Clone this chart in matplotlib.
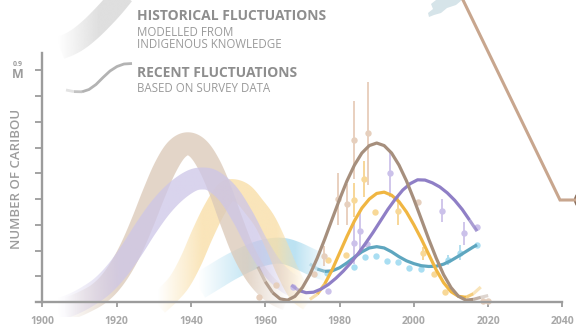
import numpy as np
import matplotlib

matplotlib.use("Agg")
import matplotlib.pyplot as plt
from matplotlib.collections import LineCollection
from matplotlib.colors import to_rgb
from matplotlib.patches import Circle, Polygon

plt.rcParams["font.family"] = ["Open Sans", "DejaVu Sans"]

# Historical fluctuations modelled from Indigenous knowledge (million caribou)
hist_brown_years = [1906, 1909, 1912, 1915, 1918, 1921, 1924, 1927, 1930, 1933, 1936, 1939,
                    1942, 1945, 1948, 1951, 1954, 1957, 1960, 1963, 1966]
hist_brown_vals = [-0.03, -0.015, 0.005, 0.03, 0.07, 0.13, 0.21, 0.31, 0.42, 0.52, 0.59, 0.615,
                   0.595, 0.53, 0.43, 0.31, 0.20, 0.12, 0.065, 0.03, 0.01]
hist_purple_years = [1904, 1908, 1912, 1916, 1920, 1924, 1928, 1932, 1936, 1940, 1943, 1946,
                     1950, 1954, 1958, 1962, 1966, 1969]
hist_purple_vals = [-0.03, -0.01, 0.02, 0.06, 0.12, 0.20, 0.29, 0.37, 0.43, 0.47, 0.48, 0.47,
                    0.42, 0.33, 0.22, 0.13, 0.075, 0.055]
hist_yellow_years = [1931, 1934, 1937, 1940, 1943, 1946, 1949, 1951, 1954, 1957, 1960, 1963,
                     1966, 1969, 1972]
hist_yellow_vals = [-0.01, 0.03, 0.08, 0.16, 0.26, 0.35, 0.42, 0.435, 0.42, 0.37, 0.31, 0.22,
                    0.12, 0.04, 0.005]
hist_blue_years = [1942, 1946, 1950, 1954, 1958, 1962, 1965, 1968, 1971, 1974, 1977]
hist_blue_vals = [0.06, 0.095, 0.13, 0.16, 0.185, 0.198, 0.198, 0.185, 0.165, 0.145, 0.13]

# Recent fluctuations based on survey data (fitted curves)
rec_brown_years = list(range(1958, 2021, 2))
rec_brown_vals = [0.137, 0.079, 0.036, 0.012, 0.007, 0.022, 0.056, 0.106, 0.171, 0.244, 0.322,
                  0.399, 0.471, 0.532, 0.579, 0.608, 0.618, 0.608, 0.579, 0.532, 0.471, 0.399,
                  0.322, 0.244, 0.171, 0.106, 0.056, 0.022, 0.007, 0.010, 0.018, 0.025]
rec_yellow_years = list(range(1972, 2019, 2))
rec_yellow_vals = [0.01, 0.03, 0.07, 0.125, 0.19, 0.255, 0.315, 0.365, 0.40, 0.422, 0.427, 0.415,
                   0.39, 0.35, 0.30, 0.245, 0.185, 0.125, 0.075, 0.04, 0.022, 0.018, 0.032, 0.058]
rec_purple_years = list(range(1967, 2018, 2))
rec_purple_vals = [0.066, 0.045, 0.036, 0.038, 0.05, 0.068, 0.092, 0.12, 0.152, 0.188, 0.228,
                   0.27, 0.315, 0.36, 0.40, 0.435, 0.46, 0.475, 0.474, 0.463, 0.447, 0.424,
                   0.395, 0.36, 0.318, 0.275]
rec_blue_years = list(range(1972, 2017, 2)) + [2017]
rec_blue_vals = [0.148, 0.128, 0.119, 0.121, 0.133, 0.152, 0.174, 0.195, 0.21, 0.215, 0.21,
                 0.195, 0.176, 0.16, 0.149, 0.141, 0.138, 0.139, 0.147, 0.161, 0.178, 0.196,
                 0.214, 0.222]

# Survey estimates with error ranges
brown_pt_years = [1958.2, 1962.9, 1973.0, 1975.8, 1979.7, 1981.9, 1983.9, 1987.7, 2001.2, 2018.5, 2020.0]
brown_pt_vals = [0.018, 0.065, 0.109, 0.179, 0.40, 0.38, 0.63, 0.656, 0.39, 0.005, 0.003]
brown_pt_err = [0, 0, 0, 0.04, 0.10, 0.08, 0.15, 0.20, 0, 0, 0]
yellow_pt_years = [1977.0, 1981.7, 1983.9, 1986.6, 1989.5, 1995.8, 2002.5, 2005.5, 2008.4]
yellow_pt_vals = [0.163, 0.183, 0.397, 0.479, 0.35, 0.354, 0.19, 0.11, 0.04]
yellow_pt_err = [0, 0, 0.065, 0.07, 0, 0.055, 0.025, 0, 0]
purple_pt_years = [1967.5, 1977.0, 1983.9, 1985.5, 1987.5, 1993.7, 2007.5, 2013.6, 2016.9]
purple_pt_vals = [0.06, 0.044, 0.228, 0.274, 0.226, 0.50, 0.354, 0.267, 0.293]
purple_pt_err = [0, 0, 0.08, 0.08, 0, 0.09, 0.045, 0.045, 0]
blue_pt_years = [1976.7, 1983.9, 1986.8, 1989.7, 1992.7, 1995.8, 1998.8, 2001.8, 2009.3, 2012.4, 2016.9]
blue_pt_vals = [0.112, 0.137, 0.176, 0.18, 0.16, 0.154, 0.131, 0.128, 0.163, 0.192, 0.222]
blue_pt_err = [0, 0, 0, 0, 0, 0, 0, 0, 0.02, 0.03, 0]

x_ticks = [1900, 1920, 1940, 1960, 1980, 2000, 2020, 2040]
y_ticks = [0.1, 0.2, 0.3, 0.4, 0.5, 0.6, 0.7, 0.8, 0.9]

GREY = "#9c9c9c"
W, H = 576, 332


def fade_alpha(x, fade_in, fade_out, low=0.0):
    return np.interp(x, [fade_in[0], fade_in[1], fade_out[0], fade_out[1]], [low, 1, 1, low])


def catmull_rom(pts, n=16):
    # smooth rendering path through the given points (display space)
    out = []
    last = len(pts) - 1
    for i in range(last):
        p0, p1 = pts[max(i - 1, 0)], pts[i]
        p2, p3 = pts[i + 1], pts[min(i + 2, last)]
        t = np.linspace(0, 1, n, endpoint=False)[:, None]
        out.append(0.5 * (2 * p1 + (p2 - p0) * t + (2 * p0 - 5 * p1 + 4 * p2 - p3) * t ** 2
                          + (3 * p1 - p0 - 3 * p2 + p3) * t ** 3))
    out.append(pts[-1:])
    return np.vstack(out)


def draw_band(ax, xs, ys, color, width_px, fade_in, fade_out, alpha_max, zorder):
    """Thick translucent stroke with a gradient fade, via a clipped gradient image."""
    pts = ax.transData.transform(np.column_stack([xs, ys]).astype(float))
    pts = catmull_rom(pts)
    d = np.gradient(pts, axis=0)
    d /= np.linalg.norm(d, axis=1)[:, None]
    nrm = np.column_stack([-d[:, 1], d[:, 0]])
    outline = np.vstack([pts + nrm * width_px / 2, (pts - nrm * width_px / 2)[::-1]])
    outline = ax.transData.inverted().transform(outline)
    clip = Polygon(outline, closed=True, transform=ax.transData, facecolor="none", edgecolor="none")
    x0, x1 = ax.get_xlim()
    y0, y1 = ax.get_ylim()
    gx = np.linspace(min(x0, x1), max(x0, x1), 600)
    rgba = np.zeros((1, gx.size, 4))
    rgba[..., :3] = to_rgb(color)
    rgba[..., 3] = fade_alpha(gx, fade_in, fade_out) * alpha_max
    im = ax.imshow(rgba, extent=(gx[0], gx[-1], y0, y1), aspect="auto",
                   interpolation="bilinear", zorder=zorder)
    im.set_clip_path(clip)


def draw_line(ax, xs, ys, color, lw, fade_in, fade_out, zorder):
    xs = np.asarray(xs, float)
    ys = np.asarray(ys, float)
    mid = (xs[:-1] + xs[1:]) / 2
    a = fade_alpha(mid, fade_in, fade_out, low=0.05)
    full = a >= 0.999
    segs = np.stack([np.column_stack([xs[:-1], ys[:-1]]), np.column_stack([xs[1:], ys[1:]])], axis=1)
    rgb = to_rgb(color)
    lc = LineCollection(segs[~full], colors=[(*rgb, v) for v in a[~full]], linewidths=lw,
                        capstyle="butt", zorder=zorder)
    ax.add_collection(lc)
    idx = np.where(full)[0]
    if idx.size:
        ax.plot(xs[idx[0]:idx[-1] + 2], ys[idx[0]:idx[-1] + 2], color=color, lw=lw,
                solid_capstyle="butt", zorder=zorder)


fig = plt.figure(figsize=(W / 100, H / 100), dpi=100)

# overlay in pixel coordinates for legend glyphs and decorations
ov = fig.add_axes([0, 0, 1, 1])
ov.set_xlim(0, W)
ov.set_ylim(H, 0)
ov.set_autoscale_on(False)
ov.axis("off")

ax = fig.add_axes([36 / W, 1 - 317.4 / H, (562.5 - 36) / W, (317.4 - 53) / H])
ax.patch.set_alpha(0)
ax.set_xlim(1898.3, 2040)
ax.set_ylim(-0.06, 0.968)
ax.set_autoscale_on(False)

# historical bands
draw_band(ax, hist_blue_years, hist_blue_vals, "#a6d9ee", 26, (1942, 1957), (1968, 1977), 0.75, 1)
draw_band(ax, hist_yellow_years, hist_yellow_vals, "#f9dea6", 22, (1931, 1943), (1963, 1972), 0.78, 2)
draw_band(ax, hist_brown_years, hist_brown_vals, "#dccab9", 23, (1906, 1920), (1955, 1966), 0.78, 3)
draw_band(ax, hist_purple_years, hist_purple_vals, "#cdc6e8", 22, (1904, 1921), (1958, 1969), 0.75, 4)

# survey points with error bars
for yrs, vals, err, pc, ec in [
    (blue_pt_years, blue_pt_vals, blue_pt_err, "#a9def2", "#9fd4ea"),
    (yellow_pt_years, yellow_pt_vals, yellow_pt_err, "#f8d897", "#f5cb7c"),
    (purple_pt_years, purple_pt_vals, purple_pt_err, "#cbc1ea", "#c3b7e6"),
    (brown_pt_years, brown_pt_vals, brown_pt_err, "#e6cfbd", "#e3c4ad"),
]:
    ax.errorbar(yrs, vals, yerr=err, fmt="none", ecolor=ec, elinewidth=1.1, capsize=0, zorder=5)
    ax.plot(yrs, vals, "o", ms=4.6, color=pc, mec="none", zorder=6)

# recent fitted curves
draw_line(ax, rec_blue_years, rec_blue_vals, "#5ea6bf", 2.3, (1972, 1976), (2030, 2031), 7)
draw_line(ax, rec_yellow_years, rec_yellow_vals, "#f0b642", 2.3, (1971, 1976), (2013, 2019), 8)
draw_line(ax, rec_purple_years, rec_purple_vals, "#8f7fc6", 2.3, (1966, 1970), (2015, 2019), 9)
draw_line(ax, rec_brown_years, rec_brown_vals, "#a68f7d", 2.3, (1957, 1962), (2015, 2021), 10)

# axes styling
for side in ("top", "right"):
    ax.spines[side].set_visible(False)
ax.spines["bottom"].set_position(("data", 0))
ax.spines["left"].set_position(("data", 1900))
ax.spines["left"].set_bounds(0, 0.968)
for side in ("bottom", "left"):
    ax.spines[side].set_color(GREY)
    ax.spines[side].set_linewidth(1.7)
    ax.spines[side].set_zorder(12)
ax.set_xticks(x_ticks)
ax.set_xticklabels([str(t) for t in x_ticks])
ax.set_yticks(y_ticks)
ax.set_yticklabels([])
ax.tick_params(axis="x", direction="out", length=3.8, width=1.3, color=GREY, pad=6,
               labelsize=7.5, labelcolor="#a8a8a8")
ax.tick_params(axis="y", direction="out", length=5, width=1.3, color=GREY)
for lbl in ax.get_xticklabels():
    lbl.set_fontweight("bold")

# axis annotations
ov.text(17.5, 64.5, "0.9", ha="center", va="center", fontsize=5, fontweight="bold", color=GREY)
ov.text(17.5, 75, "M", ha="center", va="center", fontsize=9, fontweight="bold", color=GREY)
ov.text(17, 179, "NUMBER OF CARIBOU", rotation=90, ha="center", va="center", fontsize=9.5,
        fontweight="semibold", color=GREY)

# legend glyphs
draw_band(ov, [60, 70, 80, 92, 104, 114, 123], [48, 44, 38, 28, 16, 5, -6], "#dedede", 23,
          (58, 98), (300, 301), 0.95, 1)
draw_line(ov, [66, 74, 82, 89, 96, 103, 110, 117, 124, 132], [90, 91.6, 91.8, 89.5, 84.5, 77.5,
          71, 66.5, 64, 63.5], "#b3b3b3", 2.0, (64, 82), (300, 301), 2)

ov.text(137, 16, "HISTORICAL FLUCTUATIONS", fontsize=10, fontweight="bold", color="#8e8e8e",
        va="center")
ov.text(137, 32.5, "MODELLED FROM", fontsize=8.3, color="#9a9a9a", va="center")
ov.text(137, 44, "INDIGENOUS KNOWLEDGE", fontsize=8.3, color="#9a9a9a", va="center")
ov.text(137, 73, "RECENT FLUCTUATIONS", fontsize=10, fontweight="bold", color="#8e8e8e",
        va="center")
ov.text(137, 88.5, "BASED ON SURVEY DATA", fontsize=8.3, color="#9a9a9a", va="center")

# cropped decorations at top right
ov.add_patch(Polygon([(436, 0), (462, 0), (456, 5), (447, 8), (441, 13), (434, 15), (429, 17),
                      (428, 13), (433, 9), (431, 4)], closed=True, facecolor="#d6e4e9",
                     edgecolor="none"))
ov.plot([463, 560, 580], [0, 200, 200], color="#c8a68e", lw=2.2, solid_joinstyle="miter")
ov.add_patch(Circle((583, 200), 8, facecolor="white", edgecolor="#8c705e", lw=1.5))

fig.savefig("out.png", dpi=100)
